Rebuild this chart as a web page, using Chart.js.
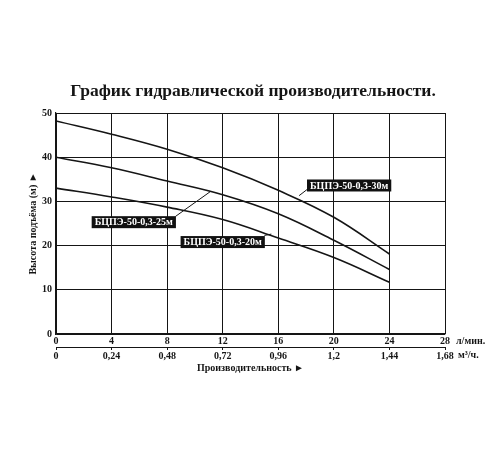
<!DOCTYPE html>
<html>
<head>
<meta charset="utf-8">
<script src="https://cdn.jsdelivr.net/npm/chart.js@4/dist/chart.umd.min.js"></script>
<style>
html,body{margin:0;padding:0;background:#fff;}
#wrap{width:500px;height:450px;}
</style>
</head>
<body>
<div id="wrap"><canvas id="c" width="500" height="450"></canvas></div>
<script>
// ---- data ----
const flowLmin = [0, 4, 8, 12, 16, 20, 24];
const head30 = [48.2, 45.2, 41.8, 37.6, 32.5, 26.4, 18.1];
const head25 = [40.0, 37.6, 34.6, 31.5, 27.2, 21.2, 14.6];
const head20 = [33.0, 31.0, 28.7, 25.9, 21.7, 17.3, 11.7];
const seriesNames = ['БЦПЭ-50-0,3-30м', 'БЦПЭ-50-0,3-25м', 'БЦПЭ-50-0,3-20м'];
const xTicksLmin = [0, 4, 8, 12, 16, 20, 24, 28];
const xTicksM3h = [0, 0.24, 0.48, 0.72, 0.96, 1.2, 1.44, 1.68];
const yTicks = [0, 10, 20, 30, 40, 50];
// label positions (data units): [labelX, labelY, leaderFromX, leaderFromY, leaderToX, leaderToY]
const labelPos = [
  [21.1, 33.6, 18.2, 33.0, 17.5, 31.3],
  [5.6, 25.3, 8.6, 26.6, 11.1, 32.2],
  [12.0, 20.8, 15.0, 22.3, 15.5, 22.6]
];
const titleText = 'График гидравлической производительности.';
const unitTop = 'л/мин.';
const unitBottom = 'м³/ч.';

const SERIF = '"Liberation Serif", "Times New Roman", "DejaVu Serif", serif';
const INK = '#151515';

function pts(ys) { return flowLmin.map((x, i) => ({x: x, y: ys[i]})); }
function comma(v) { return String(Math.round(v * 100) / 100).replace('.', ','); }

const annotPlugin = {
  id: 'annot',
  afterDatasetsDraw(chart) {
    const ctx = chart.ctx, xs = chart.scales.x, ys = chart.scales.y;
    ctx.save();
    ctx.fillStyle = INK;
    ctx.font = 'bold 17.5px ' + SERIF;
    ctx.textAlign = 'center';
    ctx.textBaseline = 'middle';
    ctx.fillText(titleText, 253, 91);

    ctx.font = 'bold 10px ' + SERIF;
    labelPos.forEach((p, i) => {
      ctx.strokeStyle = INK;
      ctx.lineWidth = 1;
      ctx.beginPath();
      ctx.moveTo(xs.getPixelForValue(p[2]), ys.getPixelForValue(p[3]));
      ctx.lineTo(xs.getPixelForValue(p[4]), ys.getPixelForValue(p[5]));
      ctx.stroke();
      const cx = xs.getPixelForValue(p[0]), cy = ys.getPixelForValue(p[1]);
      const w = ctx.measureText(seriesNames[i]).width + 6, h = 12;
      ctx.fillStyle = '#111';
      ctx.fillRect(cx - w / 2, cy - h / 2, w, h);
      ctx.fillStyle = '#fff';
      ctx.textAlign = 'center';
      ctx.textBaseline = 'middle';
      ctx.fillText(seriesNames[i], cx, cy + 0.5);
    });
    const x2 = chart.scales.x2;
    ctx.fillStyle = INK;
    ctx.font = 'bold 10px ' + SERIF;
    ctx.textAlign = 'left';
    ctx.textBaseline = 'middle';
    const rx = xs.right;
    ctx.fillText(unitTop, rx + 11, xs.top + 7);
    ctx.fillText(unitBottom, rx + 13, x2.top + 8);
    ctx.restore();
  }
};

new Chart(document.getElementById('c'), {
  type: 'line',
  data: {
    datasets: [
      {label: seriesNames[0], data: pts(head30)},
      {label: seriesNames[1], data: pts(head25)},
      {label: seriesNames[2], data: pts(head20)}
    ].map(d => Object.assign(d, {borderColor: INK, borderWidth: 1.6, pointRadius: 0, tension: 0.4, fill: false}))
  },
  options: {
    responsive: false,
    animation: false,
    devicePixelRatio: 1,
    layout: {padding: {left: 27, right: 55, top: 113, bottom: 76}},
    plugins: {
      legend: {display: false},
      tooltip: {enabled: false},
      title: {display: false}
    },
    scales: {
      x: {
        type: 'linear', position: 'bottom', min: 0, max: 28,
        afterBuildTicks: s => { s.ticks = xTicksLmin.map(v => ({value: v})); },
        afterFit: s => { s.height = 13; },
        ticks: {color: INK, font: {family: SERIF, size: 10, weight: 'bold'}, padding: 1, maxRotation: 0},
        grid: {color: INK, lineWidth: 1, drawTicks: false},
        border: {color: INK, width: 1.2}
      },
      x2: {
        type: 'linear', position: 'bottom', min: 0, max: 1.68,
        afterBuildTicks: s => { s.ticks = xTicksM3h.map(v => ({value: v})); },
        ticks: {color: INK, font: {family: SERIF, size: 10, weight: 'bold'}, padding: 0, maxRotation: 0, callback: v => comma(v)},
        grid: {drawOnChartArea: false, color: INK, tickLength: 3},
        border: {color: INK, width: 1},
        title: {display: true, text: 'Производительность ►', color: INK, font: {family: SERIF, size: 10, weight: 'bold'}, padding: {top: 0, bottom: 0}}
      },
      y: {
        type: 'linear', min: 0, max: 50,
        afterBuildTicks: s => { s.ticks = yTicks.map(v => ({value: v})); },
        afterFit: s => { s.width = 29; },
        ticks: {color: INK, font: {family: SERIF, size: 10, weight: 'bold'}, padding: 4},
        grid: {color: INK, lineWidth: 1, drawTicks: false},
        border: {color: INK, width: 1.2},
        title: {display: true, text: 'Высота подъёма (м) ►', color: INK, font: {family: SERIF, size: 10, weight: 'bold'}, padding: {top: 0, bottom: 0}}
      }
    }
  },
  plugins: [annotPlugin]
});
</script>
</body>
</html>
